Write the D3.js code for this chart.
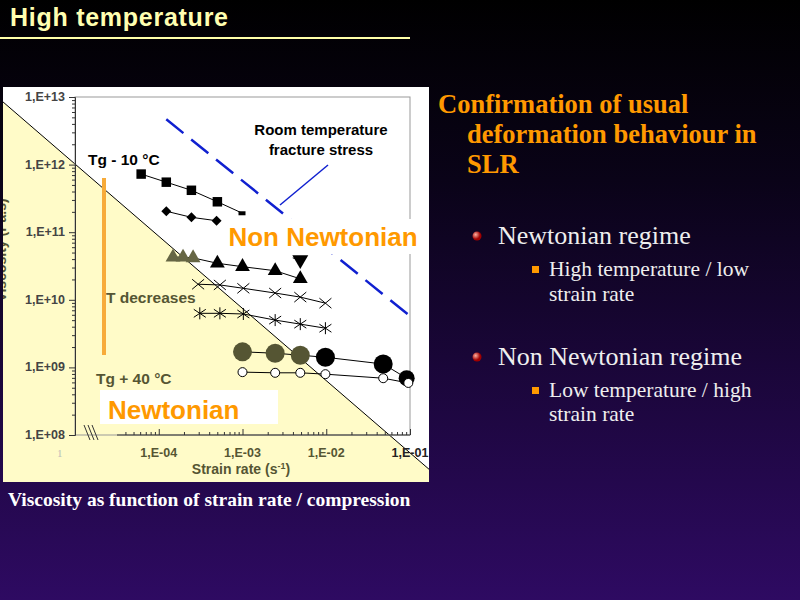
<!DOCTYPE html><html><head><meta charset="utf-8">
<script src="https://cdn.jsdelivr.net/npm/d3@7"></script>
<style>body{margin:0;overflow:hidden}</style></head><body>
<svg id="s" width="800" height="600"></svg>
<script>
const xTicks=["1,E-04","1,E-03","1,E-02","1,E-01"];
const yTicks=["1,E+08","1,E+09","1,E+10","1,E+11","1,E+12","1,E+13"];
const sqX=[-4.21,-3.91,-3.61,-3.30,-3.0], sqY=[11.86,11.74,11.62,11.45,11.28];
const diX=[-3.91,-3.61,-3.31], diY=[11.31,11.22,11.17];
const trX=[-3.83,-3.71,-3.59,-3.30,-3.0,-2.61,-2.31], trY=[10.63,10.63,10.62,10.54,10.49,10.43,10.31];
const dtX=[-2.40,-2.31], dtY=[10.62,10.59];
const crX=[-3.53,-3.27,-2.99,-2.61,-2.31,-2.01], crY=[10.23,10.22,10.17,10.10,10.04,9.95];
const asX=[-3.51,-3.27,-2.99,-2.61,-2.31,-2.01], asY=[9.80,9.80,9.79,9.70,9.64,9.58];
const bcX=[-3.0,-2.61,-2.31,-2.01,-1.32,-1.04], bcY=[9.23,9.21,9.18,9.15,9.05,8.84];
const ocX=[-3.0,-2.61,-2.31,-2.01,-1.32,-1.02], ocY=[8.93,8.92,8.92,8.90,8.84,8.77];
const fsX=[-3.91,-1.02], fsY=[12.67,9.78];
const dgX=[-5.9,-0.62], dgY=[12.97,7.33];

const svg=d3.select("#s");
const defs=svg.append("defs");
const g=defs.append("linearGradient").attr("id","bg").attr("x1",0).attr("x2",0).attr("y1",0).attr("y2",1);
g.append("stop").attr("offset","0").attr("stop-color","#000000");
g.append("stop").attr("offset","0.3").attr("stop-color","#0a0318");
g.append("stop").attr("offset","1").attr("stop-color","#2e0a62");
const rg=defs.append("radialGradient").attr("id","ball").attr("cx","0.35").attr("cy","0.35");
rg.append("stop").attr("offset","0").attr("stop-color","#ffb0a0");
rg.append("stop").attr("offset","1").attr("stop-color","#a00000");
defs.append("clipPath").attr("id","img").append("rect").attr("x",3).attr("y",87).attr("width",426).attr("height",395);
svg.append("rect").attr("width",800).attr("height",600).attr("fill","url(#bg)");
svg.append("text").attr("x",10).attr("y",26).text("High temperature").attr("fill","#ffffb0")
 .attr("font-family","Liberation Sans Narrow, Liberation Sans, Arial").attr("font-weight","bold").attr("font-size",25).attr("textLength",218);
svg.append("line").attr("x1",0).attr("x2",410).attr("y1",38).attr("y2",38).attr("stroke","#ffffa8").attr("stroke-width",2);

const x=d3.scaleLog().domain([1e-5,1e-1]).range([75,410]);
const y=d3.scaleLog().domain([1e8,1e13]).range([435,97]);
const P=(a,b)=>a.map((v,i)=>[x(10**v),y(10**b[i])]);
const c=svg.append("g").attr("clip-path","url(#img)");
c.append("rect").attr("x",3).attr("y",87).attr("width",426).attr("height",395).attr("fill","#fff");
const dg=P(dgX,dgY);
c.append("path").attr("d",d3.line()([dg[0],dg[1],[dg[1][0],500],[0,500]])).attr("fill","#fffbc8");
c.append("line").attr("x1",dg[0][0]).attr("y1",dg[0][1]).attr("x2",dg[1][0]).attr("y2",dg[1][1]).attr("stroke","#000").attr("stroke-width",1);
c.append("rect").attr("x",75).attr("y",97).attr("width",335).attr("height",338).attr("fill","none").attr("stroke","#999");
const ya=c.append("g").attr("transform","translate(75,0)").call(d3.axisLeft(y).tickValues(d3.range(8,13.01,1).flatMap(e=>e<13?d3.range(1,10).map(k=>k*10**e):[10**e])).tickSize(3).tickFormat(()=>""));
ya.selectAll("path,line").attr("stroke","#333");
ya.selectAll(".tick").filter(d=>Math.abs(Math.log10(d)%1)<1e-6).select("line").attr("x2",-6);
const F="Liberation Sans, Arial";
yTicks.forEach((t,i)=>c.append("text").attr("x",65).attr("y",y(10**(8+i))+4).attr("text-anchor","end").text(t)
 .attr("font-family",F).attr("font-weight","bold").attr("font-size",12.5).attr("fill","#444"));
const xa=c.append("g").attr("transform","translate(0,435)").call(d3.axisTop(x).tickValues(d3.range(-5,-1).flatMap(e=>d3.range(1,10).map(k=>k*10**e)).concat([0.1]).filter(v=>x(v)>116)).tickSize(3).tickFormat(()=>""));
xa.select("path").remove();
xa.selectAll(".tick").filter(d=>Math.abs(Math.log10(d)%1)<1e-6).select("line").attr("y2",-6);
xa.selectAll("line").attr("stroke","#333");
c.append("line").attr("x1",117).attr("x2",410).attr("y1",435).attr("y2",435).attr("stroke","#333");
[84,88,92].forEach(a=>c.append("line").attr("x1",a).attr("x2",a+6).attr("y1",425).attr("y2",440).attr("stroke","#333"));
xTicks.forEach((t,i)=>c.append("text").attr("x",x(10**(i-4))).attr("y",457).attr("text-anchor","middle").text(t)
 .attr("font-family",F).attr("font-weight","bold").attr("font-size",12.5).attr("fill",i==3?"#222":"#555533"));
c.append("text").attr("x",57).attr("y",457).text("1").attr("fill","#bbb").attr("font-size",11);
const xt=c.append("text").attr("x",241).attr("y",474).attr("text-anchor","middle").attr("font-family",F).attr("font-weight","bold").attr("font-size",14).attr("fill","#555533");
xt.append("tspan").text("Strain rate (s");xt.append("tspan").text("-1").attr("dy",-5).attr("font-size",9);xt.append("tspan").text(")").attr("dy",5);
c.append("text").attr("transform","translate(6,250) rotate(-90)").attr("text-anchor","middle").text("Viscosity (Pa.s)")
 .attr("font-family",F).attr("font-weight","bold").attr("font-size",14).attr("fill","#555533");
c.append("rect").attr("x",0).attr("y",87).attr("width",3).attr("height",400).attr("fill","#555533");

const line=d3.line();
const series=(X,Y)=>c.append("path").attr("d",line(P(X,Y))).attr("fill","none").attr("stroke","#000").attr("stroke-width",1);
[[sqX,sqY],[diX,diY],[trX,trY],[dtX,dtY],[crX,crY],[asX,asY],[bcX,bcY],[ocX,ocY]].forEach(s=>series(...s));
const sym=(X,Y,type,size,fill)=>P(X,Y).forEach(([px,py],i)=>c.append("path").attr("transform",`translate(${px},${py})`)
 .attr("d",d3.symbol(type,size)()).attr("fill",typeof fill=="function"?fill(i):fill));
sym(sqX.slice(0,4),sqY,d3.symbolSquare,90,"#000");
c.append("rect").attr("x",x(10**sqX[4])-4).attr("y",y(10**sqY[4])-2).attr("width",7).attr("height",4);
P(diX,diY).forEach(([px,py])=>c.append("path").attr("d",`M${px-5},${py}L${px},${py-5}L${px+5},${py}L${px},${py+5}Z`).attr("fill","#000"));
sym(trX,trY,d3.symbolTriangle,95,i=>i<3?"#666644":"#000");
c.append("path").attr("transform",`translate(${x(10**dtX[1])},${y(10**dtY[1])}) rotate(180)`).attr("d",d3.symbol(d3.symbolTriangle,110)()).attr("fill","#000");
P(crX,crY).forEach(([px,py])=>c.append("path").attr("d",`M${px-6},${py-5}L${px+6},${py+5}M${px-6},${py+5}L${px+6},${py-5}`).attr("stroke","#000"));
P(asX,asY).forEach(([px,py])=>c.append("path").attr("d",`M${px-6},${py-4}L${px+6},${py+4}M${px-6},${py+4}L${px+6},${py-4}M${px},${py-6}L${px},${py+6}`).attr("stroke","#000"));
P(bcX,bcY).forEach(([px,py],i)=>c.append("circle").attr("cx",px).attr("cy",py).attr("r",i==5?8:9.5).attr("fill",i<3?"#555533":"#000"));
P(ocX,ocY).forEach(([px,py])=>c.append("circle").attr("cx",px).attr("cy",py).attr("r",4.5).attr("fill","#fff").attr("stroke","#000"));
const fs=P(fsX,fsY);
c.append("line").attr("x1",fs[0][0]).attr("y1",fs[0][1]).attr("x2",fs[1][0]).attr("y2",fs[1][1]).attr("stroke","#1020d0").attr("stroke-width",2.5).attr("stroke-dasharray","22,10");
c.append("line").attr("x1",328).attr("y1",165).attr("x2",280).attr("y2",205).attr("stroke","#1020d0").attr("stroke-width",1.5);
c.append("rect").attr("x",102).attr("y",178).attr("width",4).attr("height",177).attr("fill","#f7ab3a");
const T=(t,px,py,sz,col,anchor)=>c.append("text").attr("x",px).attr("y",py).text(t).attr("font-family",F).attr("font-weight","bold").attr("font-size",sz).attr("fill",col).attr("text-anchor",anchor||"start");
T("Tg - 10 °C",88,165,15.5,"#000");
T("Room temperature",321,135,15,"#000","middle");
T("fracture stress",321,155,15,"#000","middle");
T("T decreases",106,303,15.5,"#555533");
T("Tg + 40 °C",96,384,15.5,"#555533");
c.append("rect").attr("x",225).attr("y",219).attr("width",195).attr("height",35).attr("fill","#fff");
T("Non Newtonian",323,246,26,"#ff9900","middle");
c.append("rect").attr("x",100).attr("y",390).attr("width",178).attr("height",34).attr("fill","#fff");
T("Newtonian",108,419,26,"#ff9900");

const S="Liberation Serif, Times New Roman, serif";
const R=(t,px,py,sz,col,w)=>svg.append("text").attr("x",px).attr("y",py).text(t).attr("font-family",S).attr("font-size",sz).attr("fill",col).attr("font-weight",w||"normal");
R("Confirmation of usual",438,113,26.5,"#ff9900","bold");
R("deformation behaviour in",467,143,26.5,"#ff9900","bold");
R("SLR",467,173,26.5,"#ff9900","bold");
[[236,"Newtonian regime",276,"High temperature / low",301],[357,"Non Newtonian regime",397,"Low temperature / high",421]].forEach(([by,t,sy,s1,s2])=>{
 svg.append("circle").attr("cx",477).attr("cy",by).attr("r",4.5).attr("fill","url(#ball)");
 R(t,498,by+8,26,"#eeeeee");
 svg.append("rect").attr("x",532).attr("y",sy-10).attr("width",7).attr("height",7).attr("fill","#ff9900");
 R(s1,549,sy,21.5,"#eeeeee");R("strain rate",549,s2,21.5,"#eeeeee");
});
R("Viscosity as function of strain rate / compression",8,506,19.5,"#ffffff","bold");
</script></body></html>
